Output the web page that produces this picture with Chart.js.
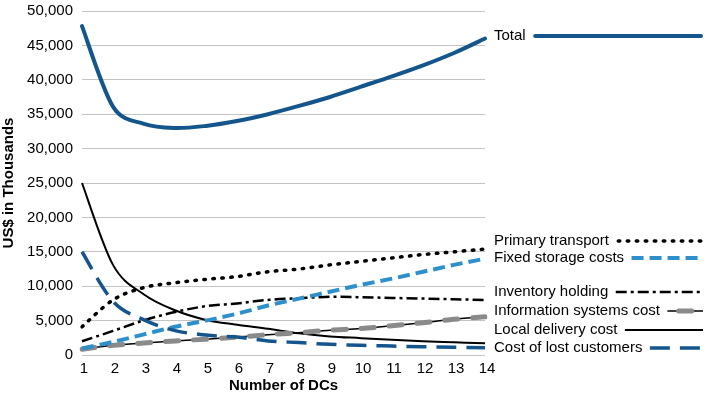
<!DOCTYPE html>
<html><head><meta charset="utf-8">
<script src="https://cdn.jsdelivr.net/npm/chart.js@4/dist/chart.umd.min.js"></script>
<style>html,body{margin:0;padding:0;background:#fff}#wrap{width:709px;height:396px}</style>
</head><body><div id="wrap"><canvas id="c" width="709" height="396"></canvas></div>
<script>
// ---- data ----
const categories = ['1','2','3','4','5','6','7','8','9','10','11','12','13','14'];
const seriesNames = ['Total','Primary transport','Fixed storage costs','Inventory holding','Information systems cost','Local delivery cost','Cost of lost customers'];
const total            = [47800, 36100, 33600, 33000, 33300, 34000, 35000, 36200, 37500, 39000, 40500, 42100, 43900, 46000];
const primaryTransport = [4100, 8000, 9800, 10500, 11000, 11400, 12100, 12500, 13100, 13600, 14100, 14600, 15000, 15400];
const fixedStorage     = [950, 1900, 3000, 4100, 5000, 6000, 7200, 8200, 9200, 10200, 11100, 12100, 13100, 14000];
const inventoryHolding = [2000, 3500, 5050, 6250, 7100, 7500, 8000, 8250, 8450, 8400, 8300, 8200, 8100, 8000];
const infoSystems      = [850, 1400, 1750, 2050, 2300, 2600, 2950, 3250, 3600, 3850, 4250, 4700, 5200, 5550];
const localDelivery    = [25000, 13100, 8800, 6500, 5100, 4400, 3800, 3150, 2700, 2450, 2200, 2000, 1850, 1700];
const lostCustomers    = [15000, 7800, 5100, 3550, 2900, 2600, 2050, 1800, 1550, 1400, 1300, 1200, 1120, 1070];
const yMin = 0, yMax = 50000, yStep = 5000;

// ---- styles ----
const DARK = '#14568c', LIGHT = '#2e90cb', GRAY = '#8a8a8a', BLACK = '#000000';
const FONT = "'Liberation Sans', Arial, sans-serif";

function ds(label, data, color, width, dash, cap, extra) {
  return Object.assign({
    label, data, borderColor: color, backgroundColor: color, borderWidth: width,
    borderDash: dash, borderCapStyle: cap, pointRadius: 0, fill: false,
    tension: 0.4
  }, extra || {});
}

const datasets = [
  ds(seriesNames[0], total, DARK, 4, [], 'round', {order: 0}),
  ds(seriesNames[1], primaryTransport, BLACK, 3.5, [1.5, 7.5], 'round', {order: 3}),
  ds(seriesNames[2], fixedStorage, LIGHT, 4, [12, 6], 'butt', {order: 2}),
  ds(seriesNames[3], inventoryHolding, BLACK, 2.5, [11, 4, 3, 4], 'butt', {order: 4}),
  ds(seriesNames[4], infoSystems, GRAY, 5, [13, 15], 'round', {order: 5}),
  ds(seriesNames[5], localDelivery, BLACK, 2, [], 'butt', {order: 7}),
  ds(seriesNames[6], lostCustomers, DARK, 3.5, [20, 10], 'butt', {order: 1}),
  ds('', infoSystems, BLACK, 1.5, [], 'butt', {order: 6})
];

// spreadsheet-style smoothed line: Bezier control points at 1/6, capped at half the segment
const smoothCurves = {
  id: 'smoothCurves',
  beforeDatasetsDraw(chart) {
    const dist = (a, b) => Math.hypot(b.x - a.x, b.y - a.y);
    chart.data.datasets.forEach((d, i) => {
      const meta = chart.getDatasetMeta(i);
      const pts = meta.data;
      const n = pts.length;
      for (let k = 0; k < n - 1; k++) {
        const p0 = pts[Math.max(k - 1, 0)], p1 = pts[k], p2 = pts[k + 1], p3 = pts[Math.min(k + 2, n - 1)];
        const d02 = dist(p0, p2), d12 = dist(p1, p2), d13 = dist(p1, p3);
        let f0 = 1 / 6, f3 = 1 / 6;
        if (d02 / 6 >= d12 / 2) f0 = d12 / 2 / d02;
        if (d13 / 6 >= d12 / 2) f3 = d12 / 2 / d13;
        p1.cp2x = p1.x + (p2.x - p0.x) * f0; p1.cp2y = p1.y + (p2.y - p0.y) * f0;
        p2.cp1x = p2.x - (p3.x - p1.x) * f3; p2.cp1y = p2.y - (p3.y - p1.y) * f3;
      }
      pts[0].cp1x = pts[0].x; pts[0].cp1y = pts[0].y;
      pts[n - 1].cp2x = pts[n - 1].x; pts[n - 1].cp2y = pts[n - 1].y;
      if (meta.dataset) meta.dataset._pointsUpdated = true;
    });
  }
};

// label layout on the right (positions only)
const labelRows = [
  {ds: 0, y: 36}, {ds: 1, y: 241}, {ds: 2, y: 258}, {ds: 3, y: 292},
  {ds: 4, y: 311}, {ds: 5, y: 330}, {ds: 6, y: 348}
];
const labelX = 494, sampleEnd = 703;

const endLabels = {
  id: 'endLabels',
  afterDraw(chart) {
    const ctx = chart.ctx;
    ctx.save();
    ctx.font = '15px ' + FONT;
    ctx.textBaseline = 'middle';
    ctx.fillStyle = '#000';
    labelRows.forEach(r => {
      const d = chart.data.datasets[r.ds];
      ctx.fillText(d.label, labelX, r.y);
      const w = ctx.measureText(d.label).width;
      const x0 = labelX + w + 7.5;
      if (r.ds === 4) {
        ctx.setLineDash([]);
        ctx.lineWidth = 1.5; ctx.strokeStyle = BLACK; ctx.lineCap = 'butt';
        ctx.beginPath(); ctx.moveTo(x0, r.y); ctx.lineTo(sampleEnd, r.y); ctx.stroke();
        const mid = (x0 + sampleEnd) / 2;
        ctx.lineWidth = 5; ctx.strokeStyle = GRAY; ctx.lineCap = 'round';
        ctx.beginPath(); ctx.moveTo(mid - 6.5, r.y); ctx.lineTo(mid + 6.5, r.y); ctx.stroke();
        return;
      }
      ctx.setLineDash(d.borderDash || []);
      ctx.lineWidth = d.borderWidth;
      ctx.strokeStyle = d.borderColor;
      ctx.lineCap = d.borderCapStyle;
      const capPad = d.borderCapStyle === 'round' ? d.borderWidth / 2 : 0;
      ctx.beginPath(); ctx.moveTo(x0 + capPad, r.y); ctx.lineTo(sampleEnd - capPad, r.y); ctx.stroke();
    });
    ctx.restore();
  }
};

Chart.defaults.font.family = FONT;
Chart.defaults.font.size = 15;
Chart.defaults.color = '#000';

new Chart(document.getElementById('c'), {
  type: 'line',
  data: { labels: categories, datasets },
  plugins: [smoothCurves, endLabels],
  options: {
    responsive: false, animation: false,
    layout: { padding: { left: 0, right: 224, top: 11, bottom: 0 } },
    plugins: { legend: { display: false }, tooltip: { enabled: false } },
    elements: { line: { borderJoinStyle: 'round' } },
    scales: {
      x: {
        offset: false,
        grid: { display: false, drawTicks: false },
        border: { display: false },
        ticks: { padding: 5, labelOffset: 2, maxRotation: 0, autoSkip: false, font: { size: 15 } },
        title: { display: true, text: 'Number of DCs', font: { size: 15, weight: 'bold' }, padding: { top: 0, bottom: 1 } },
        afterFit(s) { s.height = 41; s.paddingTop = 0; }
      },
      y: {
        min: yMin, max: yMax,
        grid: { color: '#c4c4c4', lineWidth: 1, drawTicks: false },
        border: { display: false },
        ticks: { stepSize: yStep, padding: 9, font: { size: 15 }, callback: v => v.toLocaleString('en-US') },
        title: { display: true, text: 'US$ in Thousands', font: { size: 15, weight: 'bold' }, padding: { top: 0, bottom: 0 } },
        afterFit(s) { s.width = 82; s.paddingTop = 0; s.paddingBottom = 0; }
      }
    }
  }
});
</script>
</body></html>
